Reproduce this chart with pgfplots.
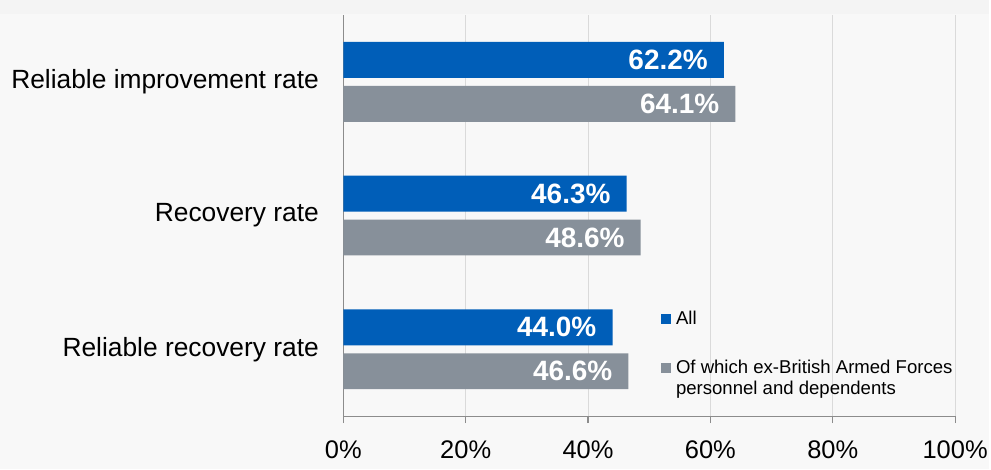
\documentclass[border=0pt]{standalone}
\usepackage{pgfplots}
\pgfplotsset{compat=1.18}
\usepackage{fontspec}
\setmainfont{Liberation Sans}

\definecolor{nhsblue}{HTML}{005EB8}
\definecolor{slate}{HTML}{87909A}
\definecolor{bg}{HTML}{F8F8F8}
\definecolor{band}{HTML}{F4F4F4}
\definecolor{axisgray}{HTML}{8C8C8C}
\definecolor{gridgray}{HTML}{DADADA}

\begin{document}
\begin{tikzpicture}[x=1pt,y=1pt]
\fill[bg] (0,0) rectangle (991,470);
\fill[band] (0,456) rectangle (991,470);
\begin{axis}[
  at={(344pt,53pt)}, anchor=south west,
  scale only axis, width=613pt, height=402pt,
  xbar, bar width=36pt,
  xmin=0, xmax=100, ymin=0, ymax=3,
  axis lines*=left,
  axis line style={axisgray, line width=1.2pt},
  /pgf/number format/assume math mode=true,
  xtick={0,20,...,100},
  xticklabel={\pgfmathprintnumber{\tick}\%},
  x tick style={draw=axisgray, line width=1.2pt},
  tick align=outside,
  major tick length=7pt,
  xmajorgrids,
  grid style={gridgray, line width=1pt},
  ytick={0.5,1.5,2.5},
  yticklabels={Reliable recovery rate, Recovery rate, Reliable improvement rate},
  y tick style={draw=none},
  extra y ticks={0,1,2,3},
  extra y tick labels={},
  extra y tick style={grid=none, major tick length=8pt,
    tick style={draw=axisgray, line width=1.2pt}},
  xticklabel style={font=\fontsize{25.5}{30}\selectfont, text=black, yshift=-14pt},
  yticklabel style={font=\fontsize{26.4}{30}\selectfont, text=black, xshift=-14pt},
  nodes near coords={\pgfmathprintnumber[fixed,fixed zerofill,precision=1]{\pgfplotspointmeta}\%},
  nodes near coords style={anchor=east, inner xsep=0pt, xshift=-16pt, text=white,
    font=\bfseries\fontsize{28}{30}\selectfont},
  legend style={at={(0.519,0.2665)}, anchor=north west, draw=none, fill=none,
    inner sep=0pt, font=\fontsize{18.6}{21}\selectfont, row sep=30pt,
    cells={align=left},
    /tikz/every odd column/.append style={column sep=3pt}},
  legend cell align=left,
]
% All patients
\addplot[bar shift=22pt, fill=nhsblue, draw=none,
  legend image code/.code={\fill[nhsblue] (0pt,-5pt) rectangle (10pt,5pt);}]
  coordinates {(44.0,0.5) (46.3,1.5) (62.2,2.5)};
% Ex-British Armed Forces personnel and dependents
\addplot[bar shift=-22pt, fill=slate, draw=none,
  legend image code/.code={\fill[slate] (0pt,5.5pt) rectangle (10pt,15.5pt);}]
  coordinates {(46.6,0.5) (48.6,1.5) (64.1,2.5)};
\legend{All, {Of which ex-British Armed Forces\\personnel and dependents}}
\end{axis}
\end{tikzpicture}
\end{document}
